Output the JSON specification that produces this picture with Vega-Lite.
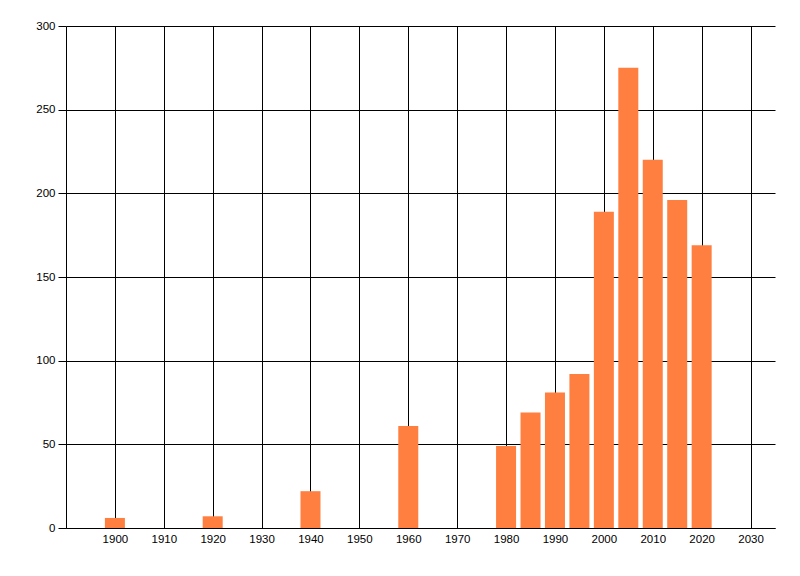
{
  "$schema": "https://vega.github.io/schema/vega-lite/v6.json",
  "background": "white",
  "autosize": {"type": "none"},
  "padding": {"left": 66, "top": 26, "right": 25, "bottom": 48},
  "width": 709,
  "height": 502,
  "config": {
    "view": {"stroke": null},
    "axis": {
      "labelFont": "Liberation Sans",
      "labelFontSize": 11.5,
      "labelColor": "#000000",
      "gridColor": "#000000",
      "gridOpacity": 1,
      "gridWidth": 1,
      "domainColor": "#000000",
      "tickColor": "#000000",
      "title": null
    }
  },
  "data": {
    "values": [
      {"year": 1900, "count": 6},
      {"year": 1920, "count": 7},
      {"year": 1940, "count": 22},
      {"year": 1960, "count": 61},
      {"year": 1980, "count": 49},
      {"year": 1985, "count": 69},
      {"year": 1990, "count": 81},
      {"year": 1995, "count": 92},
      {"year": 2000, "count": 189},
      {"year": 2005, "count": 275},
      {"year": 2010, "count": 220},
      {"year": 2015, "count": 196},
      {"year": 2020, "count": 169}
    ]
  },
  "mark": {"type": "bar", "size": 20, "color": "#ff7f40"},
  "encoding": {
    "x": {
      "field": "year",
      "type": "quantitative",
      "scale": {"domain": [1890, 2035], "nice": false, "zero": false, "padding": 0},
      "axis": {
        "values": [1900, 1910, 1920, 1930, 1940, 1950, 1960, 1970, 1980, 1990, 2000, 2010, 2020, 2030],
        "format": "d",
        "grid": true,
        "ticks": false,
        "labelPadding": 5,
        "zindex": 0
      }
    },
    "y": {
      "field": "count",
      "type": "quantitative",
      "scale": {"domain": [0, 300], "nice": false},
      "axis": {
        "values": [0, 50, 100, 150, 200, 250, 300],
        "grid": true,
        "tickSize": 8,
        "labelPadding": 3,
        "zindex": 0
      }
    }
  }
}
